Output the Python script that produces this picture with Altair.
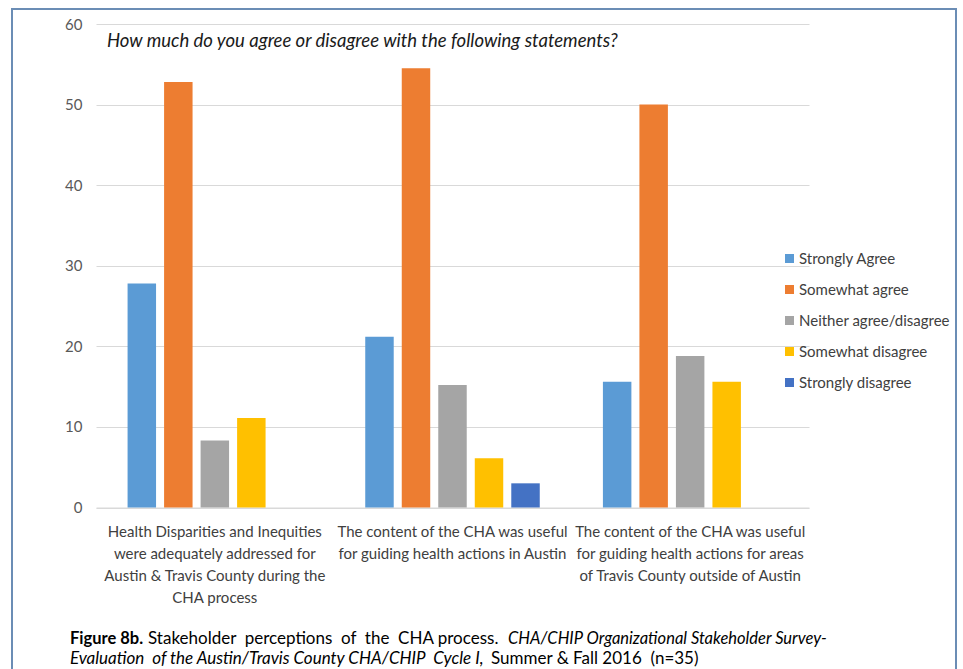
import json
import altair as alt
import pandas as pd

# ---- data ----
cat_lines = [
    ["Health Disparities and Inequities", "were adequately addressed for",
     "Austin & Travis County during the", "CHA process"],
    ["The content of the CHA was useful", "for guiding health actions in Austin"],
    ["The content of the CHA was useful", "for guiding health actions for areas",
     "of Travis County outside of Austin"],
]
categories = [" ".join(l) for l in cat_lines]
series = ["Strongly Agree", "Somewhat agree", "Neither agree/disagree",
          "Somewhat disagree", "Strongly disagree"]
strongly_agree = [27.8, 21.2, 15.6]
somewhat_agree = [52.8, 54.5, 50.0]
neither = [8.3, 15.2, 18.8]
somewhat_disagree = [11.1, 6.1, 15.6]
strongly_disagree = [None, 3.0, None]
colors = ["#5B9BD5", "#ED7D31", "#A5A5A5", "#FFC000", "#4472C4"]
y_ticks = [0, 10, 20, 30, 40, 50, 60]

rows = []
for s, vals in zip(series, [strongly_agree, somewhat_agree, neither,
                            somewhat_disagree, strongly_disagree]):
    for c, v in zip(categories, vals):
        if v is not None:
            rows.append({"cat": c, "resp": s, "val": v})
df = pd.DataFrame(rows)

# label expression for multi-line category labels
expr = "''"
for c, l in reversed(list(zip(categories, cat_lines))):
    expr = f"datum.value == {json.dumps(c)} ? {json.dumps(l)} : ({expr})"

FONT = "Lato"
W, H = 713, 483.5
OX, OY = 96, 24
NB = "\u00a0"

bars = alt.Chart(df).mark_bar().encode(
    x=alt.X("cat:N", sort=categories, title=None,
            scale=alt.Scale(paddingInner=0, paddingOuter=0),
            axis=alt.Axis(labelExpr=expr, labelAngle=0, labelFont=FONT,
                          labelFontSize=15, labelColor="#404040",
                          labelLineHeight=22, labelPadding=17, ticks=False,
                          domainColor="#D9D9D9", domainWidth=1, labelLimit=400)),
    xOffset=alt.XOffset("resp:N", sort=series,
                        scale=alt.Scale(domain=series, paddingInner=0.22,
                                        paddingOuter=0.865)),
    y=alt.Y("val:Q", title=None,
            scale=alt.Scale(domain=[0, 60], nice=False),
            axis=alt.Axis(values=y_ticks, labelFont=FONT, labelFontSize=15,
                          labelColor="#595959", labelPadding=14, ticks=False,
                          domain=False, gridColor="#D9D9D9", gridWidth=1)),
    color=alt.Color("resp:N", sort=series,
                    scale=alt.Scale(domain=series, range=colors),
                    legend=alt.Legend(orient="none", legendX=686, legendY=227,
                                      title=None, symbolType="square",
                                      symbolSize=81, symbolStrokeWidth=0,
                                      labelFont=FONT, labelFontSize=15,
                                      labelColor="#404040", rowPadding=15,
                                      labelOffset=2, padding=0)),
)

def txt(s, x, y, size=17, style="normal", weight="normal", color="#000000"):
    return alt.Chart(pd.DataFrame({"t": [s]})).mark_text(
        align="left", baseline="alphabetic", font=FONT, fontSize=size,
        fontStyle=style, fontWeight=weight, color=color
    ).encode(text="t:N", x=alt.value(x - OX), y=alt.value(y - OY))

title = txt("How much do you agree or disagree with the following statements?",
            107, 47, size=18.5, style="italic", color="#1a1a1a")
cap1a = txt("Figure 8b.", 70, 644, size=16.5, weight="bold")
cap1b = txt(f"Stakeholder{NB} perceptions{NB} of{NB} the{NB} CHA process.", 148, 644)
cap1c = txt("CHA/CHIP Organizational Stakeholder Survey-", 508, 644,
            size=16.5, style="italic")
cap2a = txt(f"Evaluation{NB} of the Austin/Travis County CHA/CHIP{NB} Cycle I,",
            70, 664, style="italic")
cap2b = txt(f"Summer & Fall 2016{NB} (n=35)", 491, 664)

border = alt.Chart(pd.DataFrame({"a": [0]})).mark_rect(
    fill=None, stroke="#6B8DB5", strokeWidth=2
).encode(x=alt.value(12 - OX), x2=alt.value(956 - OX),
         y=alt.value(9 - OY), y2=alt.value(700 - OY))

chart = alt.layer(bars, title, cap1a, cap1b, cap1c, cap2a, cap2b, border).properties(
    width=W, height=H,
    autosize=alt.AutoSizeParams(type="none"),
    padding={"left": OX, "top": OY, "right": 963 - OX - W, "bottom": 669 - OY - H},
).configure(background="white").configure_view(stroke=None)

chart.save("out.html", embed_options={"renderer": "svg", "actions": False})
